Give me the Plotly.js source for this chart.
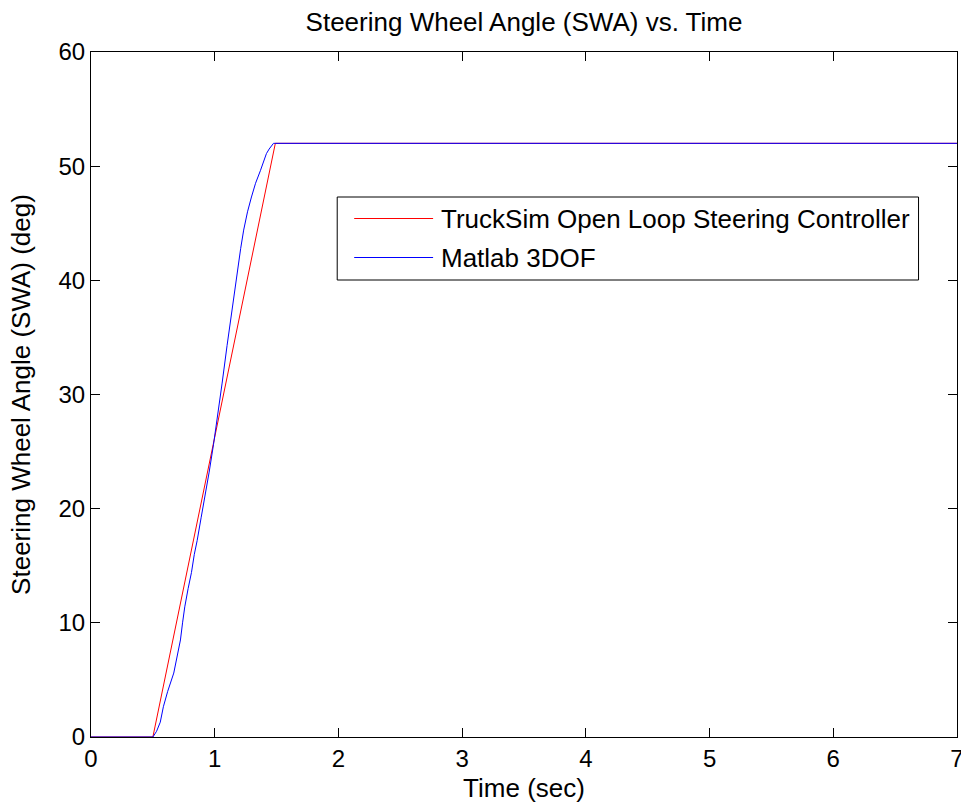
<!DOCTYPE html>
<html>
<head>
<meta charset="utf-8">
<script src="https://cdn.plot.ly/plotly-3.0.1.min.js"></script>
<style>html,body{margin:0;padding:0;background:#fff;}#chart{width:961px;height:806px;}</style>
</head>
<body>
<div id="chart"></div>
<script>
// TruckSim open loop steering controller
const truckTime = [0, 0.5, 1.49, 7];
const truckSWA  = [0, 0, 52, 52];

// Matlab 3DOF
const matlabTime = [0, 0.5, 0.53, 0.56, 0.585, 0.62, 0.669, 0.70, 0.723, 0.74, 0.758, 0.785, 0.812, 0.835, 0.858, 0.89, 0.92, 0.955, 0.99, 1.025, 1.06, 1.10, 1.14, 1.18, 1.21, 1.234, 1.265, 1.297, 1.33, 1.369, 1.395, 1.418, 1.44, 1.46, 1.475, 7];
const matlabSWA  = [0, 0, 0.5, 1.3, 2.65, 4.0, 5.6, 7.2, 8.5, 10.0, 11.4, 13.0, 14.4, 16.0, 17.2, 19.2, 21.0, 23.2, 25.6, 28.2, 31.0, 34.3, 37.4, 40.9, 42.8, 44.4, 46.0, 47.3, 48.5, 49.6, 50.5, 51.1, 51.5, 51.8, 52, 52];

const names = ["TruckSim Open Loop Steering Controller", "Matlab 3DOF"];
const xTicks = [0, 1, 2, 3, 4, 5, 6, 7];
const yTicks = [0, 10, 20, 30, 40, 50, 60];

const font = "Liberation Sans, Arial, Helvetica, sans-serif";
const FS = 26;

const traces = [
  {x: truckTime, y: truckSWA, type: "scatter", mode: "lines", name: names[0],
   line: {color: "#ff0000", width: 1}},
  {x: matlabTime, y: matlabSWA, type: "scatter", mode: "lines", name: names[1],
   line: {color: "#0000ff", width: 1}}
];

const axisCommon = {
  showgrid: false, zeroline: false, showline: true, linecolor: "#000", linewidth: 1,
  mirror: "ticks", ticks: "inside", ticklen: 9, tickcolor: "#000", tickwidth: 1,
  ticklabeloverflow: "allow",
  tickfont: {family: font, size: 24, color: "#000"}
};

// Legend drawn in paper coordinates
const L = {x0: 337, x1: 919, y0: 197, y1: 280};
const P = {l: 90.5, r: 957.5, t: 52, b: 737};
const px = v => (v - P.l) / (P.r - P.l);
const py = v => (P.b - v) / (P.b - P.t);

const layout = {
  width: 961, height: 806,
  margin: {l: 90.5, r: 3.5, t: 52, b: 69},
  paper_bgcolor: "#fff", plot_bgcolor: "#fff",
  showlegend: false,
  title: {text: "Steering Wheel Angle (SWA) vs. Time", font: {family: font, size: FS, color: "#000"},
          xref: "paper", x: 0.5, xanchor: "center", y: 1 - 22/806, yanchor: "middle"},
  xaxis: Object.assign({}, axisCommon, {range: [0, 7.0001], tickvals: xTicks, ticktext: xTicks.map(String),
          title: {text: "Time (sec)", font: {family: font, size: FS, color: "#000"}, standoff: 8}}),
  yaxis: Object.assign({}, axisCommon, {range: [0, 60.0001], tickvals: yTicks, ticktext: yTicks.map(String),
          title: {text: "Steering Wheel Angle (SWA) (deg)", font: {family: font, size: FS, color: "#000"}, standoff: 20}}),
  shapes: [
    {type: "rect", xref: "paper", yref: "paper", x0: px(L.x0), x1: px(L.x1), y0: py(L.y1), y1: py(L.y0),
     line: {color: "#000", width: 1}, fillcolor: "#fff", layer: "above"},
    {type: "line", xref: "paper", yref: "paper", x0: px(354), x1: px(433), y0: py(218.5), y1: py(218.5),
     line: {color: "#ff0000", width: 1}, layer: "above"},
    {type: "line", xref: "paper", yref: "paper", x0: px(354), x1: px(433), y0: py(257.5), y1: py(257.5),
     line: {color: "#0000ff", width: 1}, layer: "above"}
  ],
  annotations: [
    {xref: "paper", yref: "paper", x: px(439), y: py(218.5), xanchor: "left", yanchor: "middle",
     text: names[0], showarrow: false, font: {family: font, size: FS, color: "#000"}},
    {xref: "paper", yref: "paper", x: px(439), y: py(257.5), xanchor: "left", yanchor: "middle",
     text: names[1], showarrow: false, font: {family: font, size: FS, color: "#000"}}
  ]
};

Plotly.newPlot("chart", traces, layout, {displayModeBar: false, staticPlot: true});
</script>
</body>
</html>
